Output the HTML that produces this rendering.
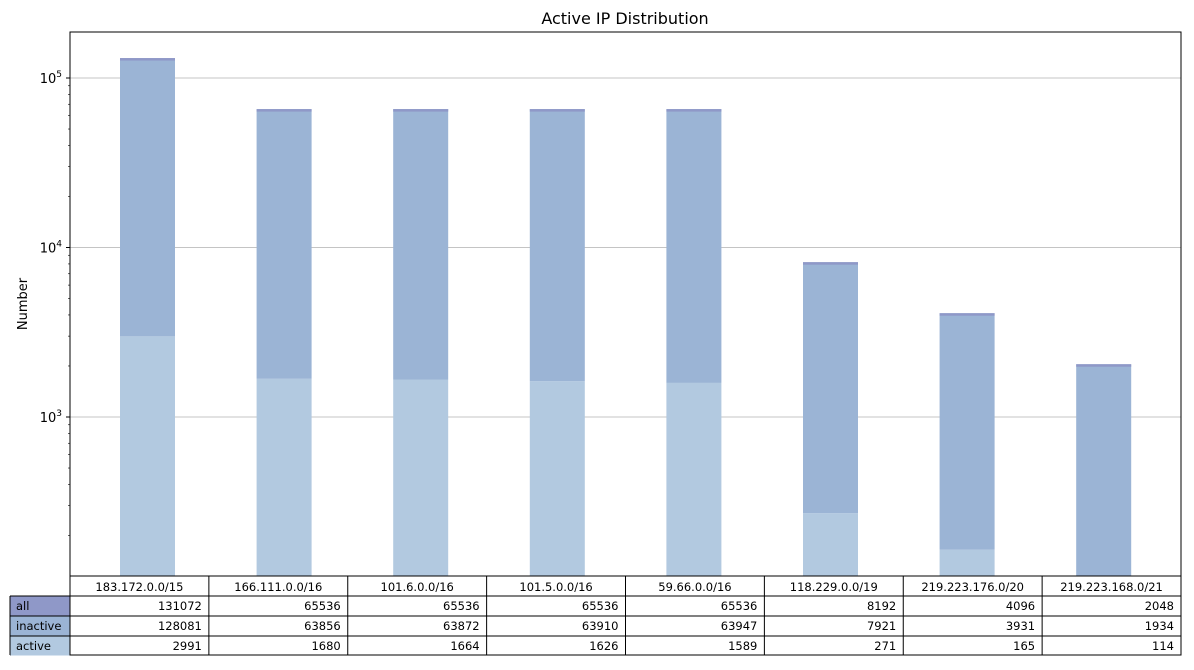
<!DOCTYPE html>
<html><head><meta charset="utf-8"><style>
body{margin:0;background:#fff;font-family:"Liberation Sans","DejaVu Sans",sans-serif;}
svg text{font-family:"DejaVu Sans","Liberation Sans",sans-serif;}
</style></head><body>
<svg id="chart" width="1194" height="665" xmlns="http://www.w3.org/2000/svg">
<text x="625" y="24" text-anchor="middle" font-size="16">Active IP Distribution</text>
<g id="grid"></g><g id="bars"></g>
<rect x="70" y="32" width="1111" height="544" fill="none" stroke="#000"/>
<g id="yaxis"></g>
<text transform="translate(27,304) rotate(-90)" text-anchor="middle" font-size="13">Number</text>
<g id="table"></g>
</svg>
<script>
const categories=["183.172.0.0/15","166.111.0.0/16","101.6.0.0/16","101.5.0.0/16","59.66.0.0/16","118.229.0.0/19","219.223.176.0/20","219.223.168.0/21"];
const allValues=[131072,65536,65536,65536,65536,8192,4096,2048];
const inactiveValues=[128081,63856,63872,63910,63947,7921,3931,1934];
const activeValues=[2991,1680,1664,1626,1589,271,165,114];
const yTicks=[1000,10000,100000];
const rowLabels=["all","inactive","active"];
const colors={all:"#8f98c8",inactive:"#9bb4d5",active:"#b2c9e0"};
const NS="http://www.w3.org/2000/svg";
const x0=70,x1=1181,yTop=32,yBot=576;
const dec=169.5;
function yScale(v){return 417-(Math.log10(v)-3)*dec;}
const colW=(x1-x0)/categories.length;
function cx(i){return x0+colW*(i+0.5);}
function barX(i){return 147.5+136.6*i;}
function mk(tag,attrs,parent,txt){const e=document.createElementNS(NS,tag);for(const k in attrs)e.setAttribute(k,attrs[k]);if(txt!==undefined)e.textContent=txt;parent.appendChild(e);return e;}
const grid=document.getElementById('grid'),bars=document.getElementById('bars'),yaxisG=document.getElementById('yaxis'),tb=document.getElementById('table');
yTicks.forEach((t)=>{const yy=yScale(t);
 const l=mk('line',{x1:x0,x2:x1,y1:yy,y2:yy,stroke:'#b0b0b0','stroke-width':0.8},grid);
 
 
 mk('line',{x1:x0-4,x2:x0,y1:yy,y2:yy,stroke:'#000'},yaxisG);
 const tx=mk('text',{x:x0-8,y:yy+5,'text-anchor':'end','font-size':13},yaxisG);
 
 
 tx.appendChild(document.createTextNode('10'));
 mk('tspan',{dy:-6,'font-size':9},tx,String(Math.round(Math.log10(t))));
});
for(let d=2;d<=5;d++){for(let m=2;m<=9;m++){const v=m*Math.pow(10,d);const yy=yScale(v);if(yy<yTop||yy>yBot)continue;mk('line',{x1:x0-2,x2:x0,y1:yy,y2:yy,stroke:'#000','stroke-width':0.6},yaxisG);}}
const bw=55;
categories.forEach((c,i)=>{
 const bx=barX(i)-bw/2;
 const ya1=Math.min(yBot,yScale(activeValues[i]));
 const a=mk('rect',{x:bx,y:ya1,width:bw,height:yBot-ya1,fill:colors.active},bars);
 
 
 const yi=yScale(activeValues[i]+inactiveValues[i]);
 const b=mk('rect',{x:bx,y:yi,width:bw,height:ya1-yi,fill:colors.inactive},bars);
 
 
 const ytop=yScale(allValues[i]);
 const ct=mk('rect',{x:bx,y:ytop,width:bw,height:2.5,fill:colors.all},bars);
 
 
});
const rowY=[576,596,616,636,655];
const g=tb;
mk('rect',{x:x0,y:576,width:x1-x0,height:79,fill:'none',stroke:'#000'},g);
for(let r=0;r<4;r++){mk('line',{x1:(r==0?x0:10),x2:x1,y1:rowY[r],y2:rowY[r],stroke:'#000'},g);}
mk('line',{x1:10,x2:x1,y1:655,y2:655,stroke:'#000'},g);
for(let i=0;i<=categories.length;i++){const xx=x0+colW*i;mk('line',{x1:xx,x2:xx,y1:576,y2:655,stroke:'#000'},g);}
mk('line',{x1:10,x2:10,y1:596,y2:655,stroke:'#000'},g);
categories.forEach((c,i)=>{const t=mk('text',{x:cx(i),y:591,'text-anchor':'middle','font-size':11.5},g,c);
 
 });
const rows=[allValues,inactiveValues,activeValues];
rowLabels.forEach((lab,r)=>{
 const yy=rowY[r+1];
 mk('rect',{x:10.5,y:yy+0.5,width:59,height:19,fill:colors[lab]},g);
 const t=mk('text',{x:16,y:yy+14,'font-size':11.5},g,lab);
 
 
 rows[r].forEach((v,i)=>{const tv=mk('text',{x:x0+colW*(i+1)-7,y:yy+14,'text-anchor':'end','font-size':11.5},g,String(v));
  
  });
});
</script>
</body></html>
